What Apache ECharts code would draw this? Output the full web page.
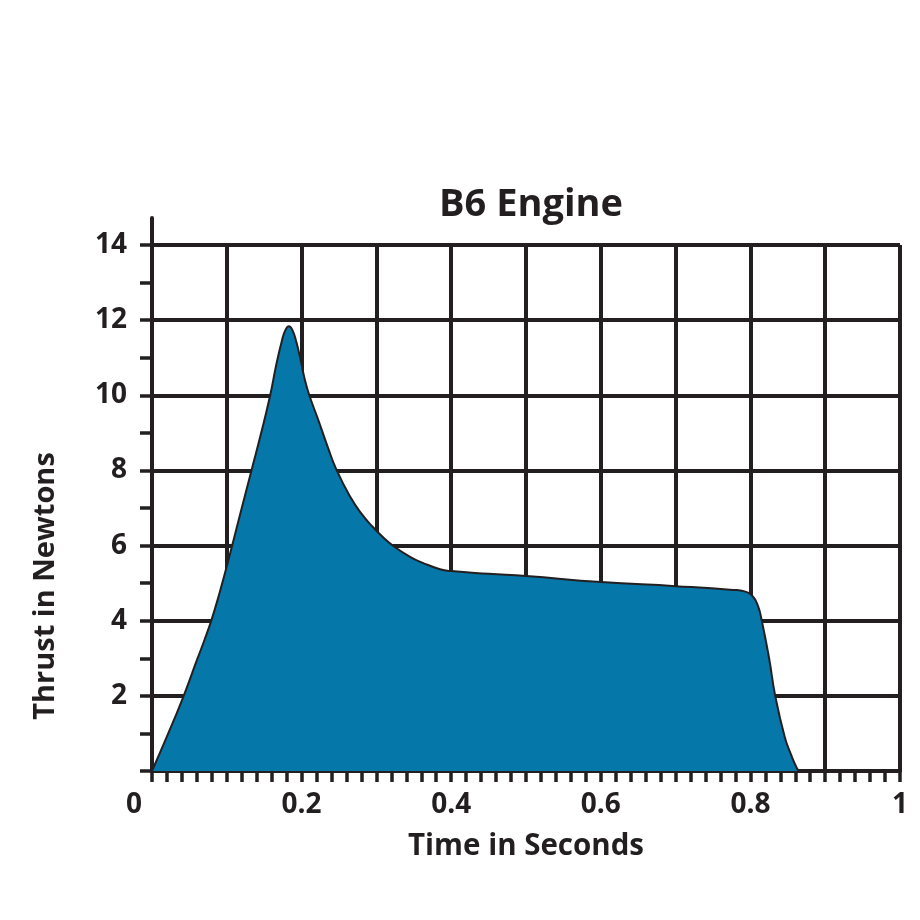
<!DOCTYPE html>
<html>
<head>
<meta charset="utf-8">
<script src="https://cdn.jsdelivr.net/npm/echarts@6/dist/echarts.min.js"></script>
<style>html,body{margin:0;padding:0;background:#fff}#c{width:920px;height:920px}</style>
</head>
<body>
<div id="c"></div>
<script>
const titleText = 'B6 Engine';
const xName = 'Time in Seconds';
const yName = 'Thrust in Newtons';
const timeSec = [0, 0.02, 0.04, 0.06, 0.07, 0.08, 0.09, 0.1, 0.1065, 0.12, 0.133, 0.146, 0.158, 0.166, 0.173, 0.178, 0.183, 0.188, 0.193, 0.198, 0.2045, 0.211, 0.222, 0.235, 0.247, 0.265, 0.28, 0.295, 0.31, 0.322, 0.345, 0.362, 0.385, 0.4, 0.45, 0.5, 0.6, 0.7, 0.777, 0.792, 0.803, 0.81, 0.815, 0.825, 0.833, 0.846, 0.855, 0.862, 0.865];
const thrustN = [0, 0.92, 1.88, 2.95, 3.48, 4.05, 4.72, 5.45, 5.95, 7.0, 8.0, 9.0, 10.0, 10.8, 11.4, 11.72, 11.84, 11.72, 11.42, 11.0, 10.4, 9.96, 9.36, 8.62, 8.0, 7.3, 6.85, 6.5, 6.2, 6.0, 5.7, 5.54, 5.37, 5.32, 5.25, 5.19, 5.03, 4.92, 4.82, 4.78, 4.65, 4.4, 4.02, 3.0, 2.02, 0.9, 0.4, 0.08, 0];

const ink = '#231f20';
const font = 'Open Sans';
const chart = echarts.init(document.getElementById('c'), null, {renderer: 'canvas'});
chart.setOption({
  animation: false,
  backgroundColor: '#fff',
  title: {
    text: titleText, left: 526, top: 181, textAlign: 'center',
    textStyle: {fontFamily: font, fontWeight: 'bold', fontSize: 38, color: ink}
  },
  grid: [
    {left: 152, right: 20, top: 245, bottom: 149},
    {left: 152, right: 20, top: 218, bottom: 149}
  ],
  xAxis: [{
    type: 'value', min: 0, max: 1, interval: 0.1, gridIndex: 0,
    name: xName, nameLocation: 'middle', nameGap: 61,
    nameTextStyle: {fontFamily: font, fontWeight: 'bold', fontSize: 29.5, color: ink},
    axisLine: {show: true, lineStyle: {color: ink, width: 4}},
    axisTick: {show: true, length: 11, lineStyle: {color: ink, width: 3.5}},
    minorTick: {show: true, splitNumber: 5, length: 11, lineStyle: {color: ink, width: 3.5}},
    splitLine: {show: true, lineStyle: {color: ink, width: 4}},
    axisLabel: {
      margin: 20, fontFamily: font, fontWeight: 'bold', fontSize: 28, color: ink,
      showMinLabel: true, showMaxLabel: true,
      formatter: function (v) {
        const k = Math.round(v * 10);
        if (k % 2 !== 0) return '';
        if (k === 0) return '{z|0}';
        return String(Math.round(v * 10) / 10);
      },
      rich: {z: {fontFamily: font, fontWeight: 'bold', fontSize: 28, color: ink, padding: [0, 36, 0, 0]}}
    }
  }, {
    type: 'value', min: 0, max: 1, gridIndex: 1, show: false
  }],
  yAxis: [{
    type: 'value', min: 0, max: 14, interval: 2, gridIndex: 0,
    name: yName, nameLocation: 'middle', nameGap: 92,
    nameTextStyle: {fontFamily: font, fontWeight: 'bold', fontSize: 29, color: ink, padding: [0, 156, 0, 0]},
    axisLine: {show: true, lineStyle: {color: ink, width: 4}},
    axisTick: {show: true, length: 12, lineStyle: {color: ink, width: 3.5}},
    minorTick: {show: true, splitNumber: 2, length: 12, lineStyle: {color: ink, width: 3.5}},
    splitLine: {show: true, lineStyle: {color: ink, width: 4}},
    axisLabel: {
      margin: 25, fontFamily: font, fontWeight: 'bold', fontSize: 28, color: ink,
      formatter: function (v) { return v === 0 ? '' : String(v); }
    }
  }, {
    type: 'value', min: 0, max: 1, gridIndex: 1,
    axisLine: {show: true, lineStyle: {color: ink, width: 4}},
    axisTick: {show: false}, axisLabel: {show: false}, splitLine: {show: false}
  }],
  series: [{
    type: 'line', xAxisIndex: 0, yAxisIndex: 0,
    data: timeSec.map((t, i) => [t, thrustN[i]]),
    smooth: 0.5, symbol: 'none',
    lineStyle: {color: ink, width: 2},
    areaStyle: {color: '#0577a9', opacity: 1},
    z: 5
  }]
});
</script>
</body>
</html>
